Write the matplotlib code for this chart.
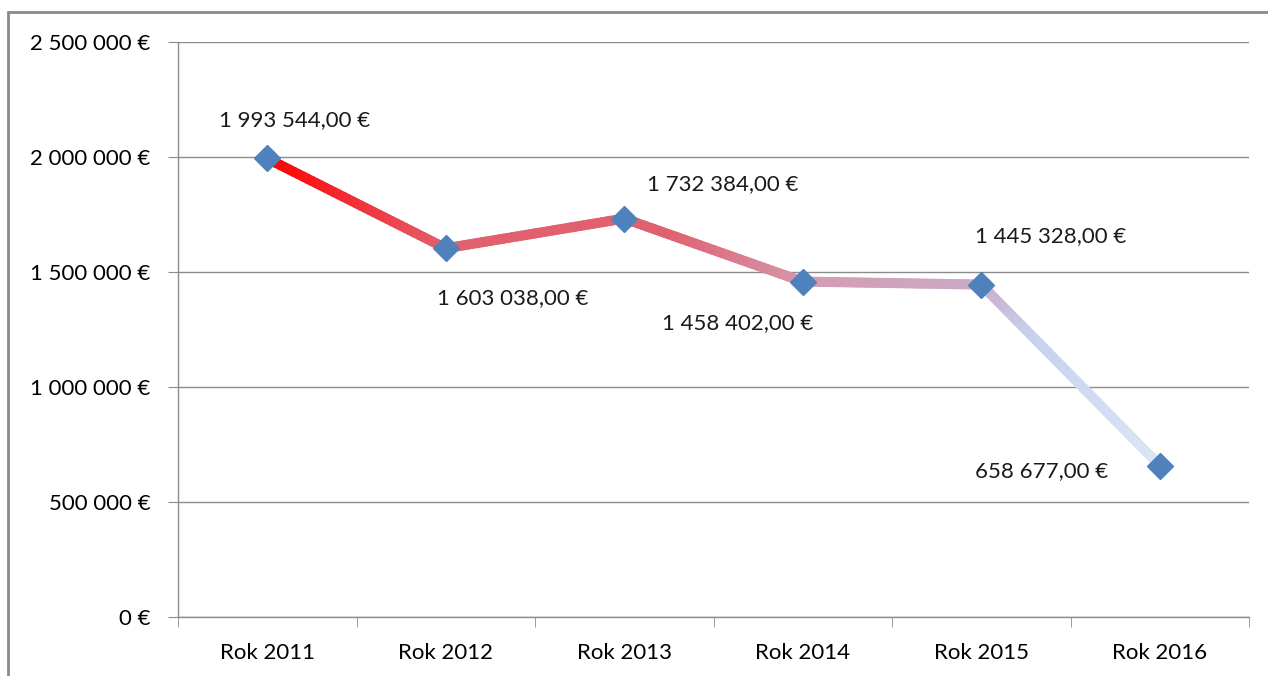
import numpy as np
import matplotlib
matplotlib.use("Agg")
import matplotlib.pyplot as plt
from matplotlib.collections import LineCollection
from matplotlib.colors import LinearSegmentedColormap
from matplotlib.patches import Rectangle
from matplotlib.ticker import FuncFormatter, MultipleLocator, FixedLocator

# data
years = ["Rok 2011", "Rok 2012", "Rok 2013", "Rok 2014", "Rok 2015", "Rok 2016"]
values = [1993544.00, 1603038.00, 1732384.00, 1458402.00, 1445328.00, 658677.00]
# label offsets (points) relative to each point
label_dx = [20, 48, 71, -47, 50, -85]
label_dy = [28, -36, 25, -30, 35, -4]


def fmt_int(v, pos=None):
    return "{:,.0f} €".format(v).replace(",", " ")


def fmt_money(v):
    s = "{:,.2f}".format(v)
    s = s.replace(",", " ").replace(".", ",")
    return s + " €"


plt.rcParams["font.family"] = ["Lato", "DejaVu Sans"]
fs = 16

fig = plt.figure(figsize=(12.68, 6.76), dpi=100)
ax = fig.add_axes([178 / 1268, 59 / 676, 1071 / 1268, 575 / 676])

x = np.arange(len(values))
y = np.array(values)

# gradient line (colour follows x position)
grad = LinearSegmentedColormap.from_list("g", [
    (0.0, "#ff0000"),
    (0.2, "#e2606e"),
    (0.45, "#e0606e"),
    (0.62, "#d49cb2"),
    (0.8, "#cbaac6"),
    (0.86, "#c6d1ee"),
    (1.0, "#dde5f4"),
])
segs, cols = [], []
for i in range(len(x) - 1):
    t = np.linspace(0, 1, 41)
    xs = x[i] + (x[i + 1] - x[i]) * t
    ys = y[i] + (y[i + 1] - y[i]) * t
    for j in range(len(t) - 1):
        segs.append([(xs[j], ys[j]), (xs[j + 1], ys[j + 1])])
        cols.append(grad(((xs[j] + xs[j + 1]) / 2) / x[-1]))
lc = LineCollection(segs, colors=cols, linewidths=7.2, capstyle="round", zorder=3)
ax.add_collection(lc)

ax.plot(x, y, linestyle="none", marker="D", markersize=13,
        color="#4f81bd", zorder=4)

for xi, yi, dx, dy in zip(x, y, label_dx, label_dy):
    ax.annotate(fmt_money(yi), (xi, yi), xytext=(dx, dy), textcoords="offset points",
                ha="center", va="center", fontsize=fs, color="#1a1a1a")

ax.set_xlim(-0.5, len(values) - 0.5)
ax.set_ylim(0, 2500000)
ax.yaxis.set_major_locator(MultipleLocator(500000))
ax.yaxis.set_major_formatter(FuncFormatter(fmt_int))
ax.grid(axis="y", color="#8c8c8c", linewidth=1)
ax.set_axisbelow(True)

ax.set_xticks(x)
ax.set_xticklabels(years)
ax.xaxis.set_minor_locator(FixedLocator(np.arange(-0.5, len(values), 1)))
ax.tick_params(axis="x", which="major", length=0, pad=19, labelsize=fs)
ax.tick_params(axis="x", which="minor", length=7, color="#8c8c8c", direction="out")
ax.tick_params(axis="y", length=7, color="#8c8c8c", pad=13, labelsize=fs)

for s in ["top", "right"]:
    ax.spines[s].set_visible(False)
for s in ["left", "bottom"]:
    ax.spines[s].set_color("#8c8c8c")
    ax.spines[s].set_linewidth(1)

# outer chart border
fig.add_artist(Rectangle((8 / 1268, -0.2), 1.2, 1.2 - 12 / 676, transform=fig.transFigure,
                         fill=False, edgecolor="#8a8a8a", linewidth=2))

fig.savefig("out.png", dpi=100)
